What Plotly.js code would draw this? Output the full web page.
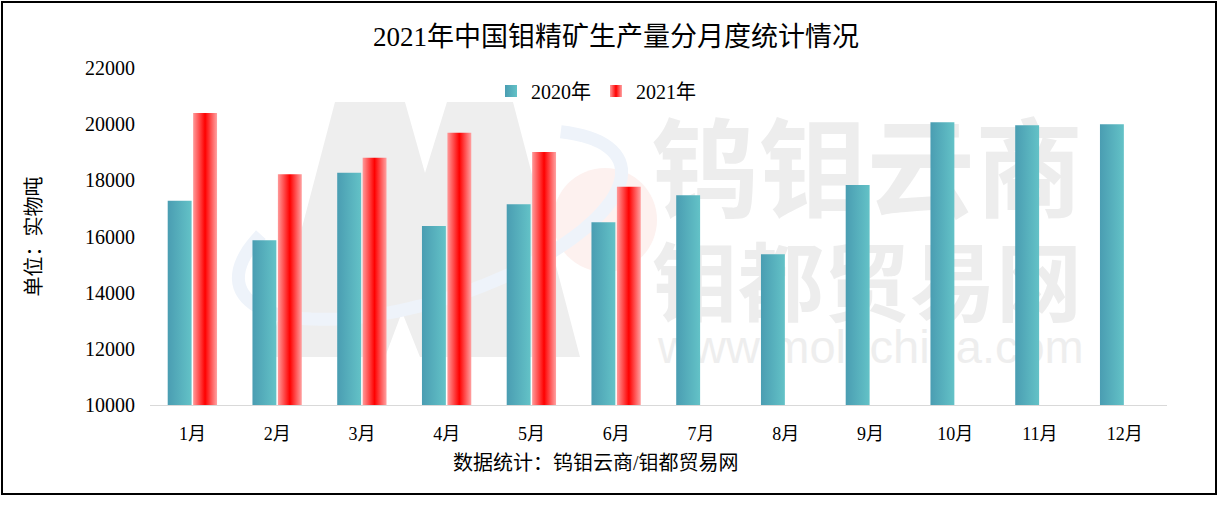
<!DOCTYPE html>
<html>
<head>
<meta charset="utf-8">
<script src="https://cdn.plot.ly/plotly-3.0.1.min.js"></script>
<style>
html,body{margin:0;padding:0;background:#fff;}
#wrap{position:relative;width:1219px;height:506px;}
#chart{width:1219px;height:506px;}
#frame{position:absolute;left:1px;top:1px;width:1216px;height:494px;box-sizing:border-box;border:2px solid #000;pointer-events:none;}
</style>
</head>
<body>
<div id="wrap"><div id="chart"></div><div id="frame"></div></div>
<script>
// ---- data ----
const months = ['1月','2月','3月','4月','5月','6月','7月','8月','9月','10月','11月','12月'];
const prod2020 = [17270, 15870, 18270, 16370, 17150, 16510, 17470, 15370, 17830, 20070, 19960, 20000];
const prod2021 = [20400, 18220, 18800, 19690, 19010, 17770, null, null, null, null, null, null];
const seriesNames = ['2020年', '2021年'];
const yTicks = [10000, 12000, 14000, 16000, 18000, 20000, 22000];
const chartTitle = '2021年中国钼精矿生产量分月度统计情况';
const yTitle = '单位：实物吨';
const sourceText = '数据统计：钨钼云商/钼都贸易网';
const watermark = ['钨钼云商', '钼都贸易网', 'www.molychina.com'];

// ---- geometry helpers (plot area in pixels) ----
const W = 1219, H = 506;
const PL = 150, PR = 1167, PT = 68, PB = 405;
const px = x => (x - PL) / (PR - PL);
const py = y => (PB - y) / (PB - PT);
function pathFrom(pts, close) {
  return pts.map((p, i) => (i ? 'L' : 'M') + px(p[0]).toFixed(4) + ',' + py(p[1]).toFixed(4)).join(' ') + (close ? ' Z' : '');
}
function ellipseArc(cx, cy, rx, ry, rotDeg, a0, a1, n) {
  const th = rotDeg * Math.PI / 180, pts = [];
  for (let i = 0; i <= n; i++) {
    const t = (a0 + (a1 - a0) * i / n) * Math.PI / 180;
    pts.push([cx + rx * Math.cos(t) * Math.cos(th) - ry * Math.sin(t) * Math.sin(th),
              cy + rx * Math.cos(t) * Math.sin(th) + ry * Math.sin(t) * Math.cos(th)]);
  }
  return pathFrom(pts, false);
}

const FONT = "'Liberation Serif', 'Noto Sans CJK SC', serif";
const WMFONT = "'Noto Sans CJK SC', 'Noto Sans', sans-serif";

const data = [
  { type: 'bar', name: seriesNames[0], x: months, y: prod2020,
    marker: { color: '#56b2bf', line: { width: 0 } } },
  { type: 'bar', name: seriesNames[1], x: months, y: prod2021,
    marker: { color: '#ff4040', line: { width: 0 } } }
];

const mShape = [[335,102],[405,102],[425,173],[447,102],[513,102],[580,357],[420,357],[402,312],[385,357],[268,357]];

const layout = {
  width: W, height: H,
  margin: { l: PL, r: W - PR, t: PT, b: H - PB, pad: 0 },
  paper_bgcolor: '#ffffff',
  plot_bgcolor: 'rgba(0,0,0,0)',
  font: { family: FONT, color: '#000', size: 18 },
  title: { text: chartTitle, font: { family: FONT, size: 27, color: '#000' },
           x: 616 / W, xref: 'container', xanchor: 'center',
           y: 1 - 37 / H, yref: 'container', yanchor: 'middle' },
  barmode: 'group', bargap: 0.4, bargroupgap: 0.06,
  showlegend: true,
  legend: { orientation: 'h', x: px(596), xanchor: 'center', y: py(91), yanchor: 'middle',
            font: { family: FONT, size: 20, color: '#000' }, bgcolor: 'rgba(0,0,0,0)',
            itemwidth: 30, traceorder: 'normal' },
  xaxis: { type: 'category', showline: true, linecolor: '#d9d9d9', linewidth: 1,
           ticks: '', showgrid: false, zeroline: false, ticklabelstandoff: 12,
           tickfont: { family: FONT, size: 18, color: '#000' }, fixedrange: true },
  yaxis: { range: [yTicks[0], yTicks[yTicks.length - 1]], tickvals: yTicks, tickformat: 'd',
           showline: false, showgrid: false, zeroline: false, ticks: '', ticklabelstandoff: 14,
           tickfont: { family: FONT, size: 20, color: '#000' }, fixedrange: true,
           title: { text: yTitle, font: { family: FONT, size: 20, color: '#000' }, standoff: 38 } },
  shapes: [
    { type: 'circle', xref: 'paper', yref: 'paper', layer: 'below',
      x0: px(553), x1: px(657), y0: py(272), y1: py(168),
      fillcolor: '#fdf1ef', line: { width: 0 } },
    { type: 'path', xref: 'paper', yref: 'paper', layer: 'below',
      path: pathFrom(mShape, true), fillcolor: '#eeeeee', line: { width: 0 } },
    { type: 'path', xref: 'paper', yref: 'paper', layer: 'below',
      path: ellipseArc(430, 225, 200, 75, -18, -40, 215, 80),
      fillcolor: 'rgba(0,0,0,0)', line: { width: 13, color: '#eef3fa' } }
  ],
  annotations: [
    { text: watermark[0], xref: 'paper', yref: 'paper', x: px(867), y: py(162), showarrow: false,
      font: { family: WMFONT, size: 108, color: '#ededed', weight: 'bold' }, xanchor: 'center', yanchor: 'middle' },
    { text: watermark[1], xref: 'paper', yref: 'paper', x: px(867), y: py(277), showarrow: false,
      font: { family: WMFONT, size: 86, color: '#ededed', weight: 'bold' }, xanchor: 'center', yanchor: 'middle' },
    { text: watermark[2], xref: 'paper', yref: 'paper', x: px(870), y: py(346), showarrow: false,
      font: { family: "'Liberation Sans', 'Noto Sans', sans-serif", size: 47, color: '#eeeeee' }, xanchor: 'center', yanchor: 'middle' },
    { text: sourceText, xref: 'paper', yref: 'paper', x: px(596), y: py(463), showarrow: false,
      font: { family: FONT, size: 20, color: '#000' }, xanchor: 'center', yanchor: 'middle' }
  ]
};

Plotly.newPlot('chart', data, layout, { staticPlot: true, displayModeBar: false }).then(gd => {
  const ns = 'http://www.w3.org/2000/svg';
  const svg = gd.querySelector('svg.main-svg');
  let defs = svg.querySelector('defs');
  if (!defs) { defs = document.createElementNS(ns, 'defs'); svg.insertBefore(defs, svg.firstChild); }
  function grad(id, stops) {
    const g = document.createElementNS(ns, 'linearGradient');
    g.setAttribute('id', id);
    g.setAttribute('x1', '0'); g.setAttribute('y1', '0'); g.setAttribute('x2', '1'); g.setAttribute('y2', '0');
    stops.forEach(s => {
      const st = document.createElementNS(ns, 'stop');
      st.setAttribute('offset', s[0]); st.setAttribute('stop-color', s[1]);
      g.appendChild(st);
    });
    defs.appendChild(g);
  }
  grad('gTeal', [[0, '#4a9db2'], [1, '#63c2c7']]);
  grad('gRed', [[0, '#ff9a9a'], [0.5, '#ff0000'], [1, '#ffa2a2']]);
  const fills = ['url(#gTeal)', 'url(#gRed)'];
  gd.querySelectorAll('.barlayer .trace').forEach((t, i) => {
    t.querySelectorAll('path').forEach(p => { p.style.fill = fills[i]; });
  });
  gd.querySelectorAll('.legend .traces').forEach((t, i) => {
    t.querySelectorAll('.legendpoints path').forEach(p => { p.style.fill = fills[i]; });
  });
  // put watermark text beneath the bars
  const below = svg.querySelector('.layer-below');
  if (below) {
    gd.querySelectorAll('.infolayer .annotation').forEach(a => {
      const idx = +a.getAttribute('data-index');
      if (idx <= 2) below.appendChild(a);
    });
  }
});
</script>
</body>
</html>
